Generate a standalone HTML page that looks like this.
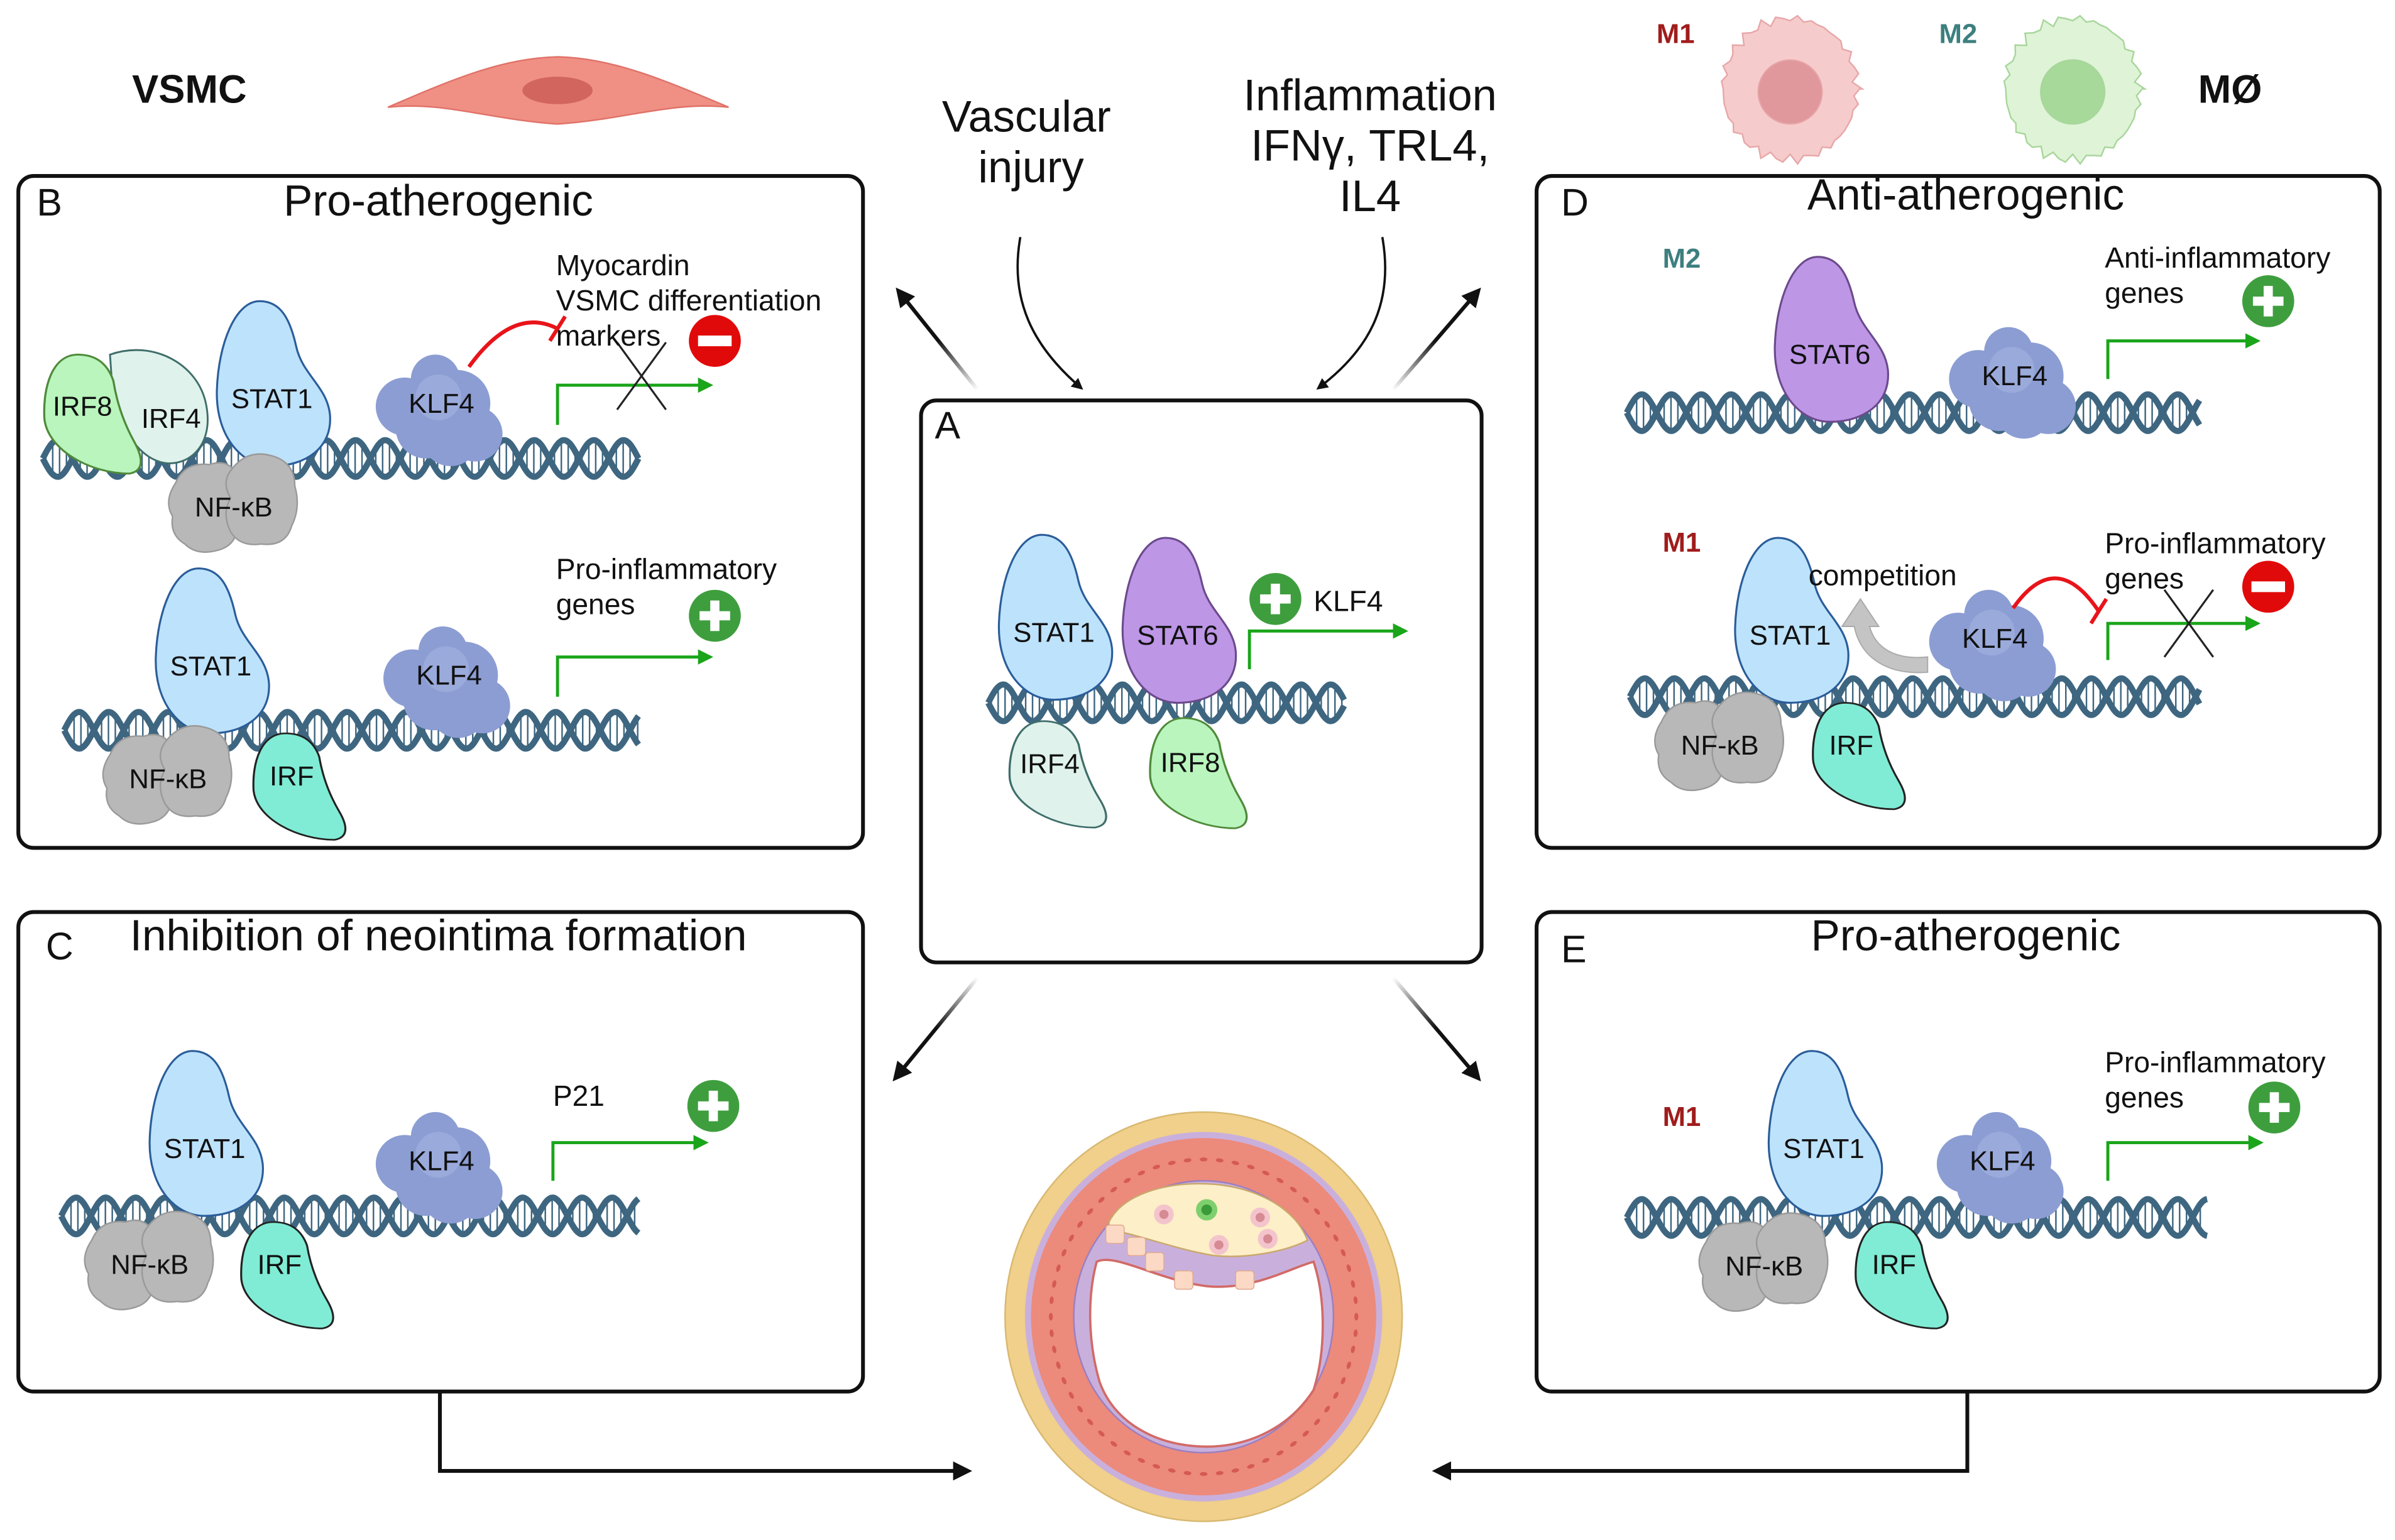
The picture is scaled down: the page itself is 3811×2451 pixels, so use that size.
<!DOCTYPE html>
<html><head><meta charset="utf-8">
<style>
html,body{margin:0;padding:0;background:#fff;}
svg{display:block;}
text{font-family:"Liberation Sans",sans-serif;fill:#111;}
</style></head>
<body>
<svg id="s" xmlns="http://www.w3.org/2000/svg" width="3811" height="2451" viewBox="0 0 1568 1008">
<defs>
<marker id="ah" viewBox="0 0 10 10" refX="8" refY="5" markerWidth="5" markerHeight="5" orient="auto-start-reverse"><path d="M0,0 L10,5 L0,10 z" fill="#111"/></marker>
<marker id="gh" viewBox="0 0 10 10" refX="8" refY="5" markerWidth="5" markerHeight="5" orient="auto"><path d="M0,0 L10,5 L0,10 z" fill="#1aa51a"/></marker>
<linearGradient id="fadeL1" x1="640" y1="255" x2="588" y2="190" gradientUnits="userSpaceOnUse"><stop offset="0" stop-color="#111" stop-opacity="0"/><stop offset="0.5" stop-color="#111"/></linearGradient>
<linearGradient id="fadeR1" x1="912" y1="255" x2="968" y2="190" gradientUnits="userSpaceOnUse"><stop offset="0" stop-color="#111" stop-opacity="0"/><stop offset="0.5" stop-color="#111"/></linearGradient>
<linearGradient id="fadeL2" x1="640" y1="640" x2="586" y2="706" gradientUnits="userSpaceOnUse"><stop offset="0" stop-color="#111" stop-opacity="0"/><stop offset="0.5" stop-color="#111"/></linearGradient>
<linearGradient id="fadeR2" x1="912" y1="640" x2="968" y2="706" gradientUnits="userSpaceOnUse"><stop offset="0" stop-color="#111" stop-opacity="0"/><stop offset="0.5" stop-color="#111"/></linearGradient>
</defs>
<g id="g"></g>
</svg>
<script>
var o='';
function dna(x1,x2,y){var A=12,P=39,s1='',s2='',r='';
 for(var x=x1;x<=x2;x+=1){var t=(x-x1)/P*2*Math.PI;var a=y+A*Math.sin(t),b=y-A*Math.sin(t);
  s1+=(x==x1?'M':'L')+x+','+a.toFixed(1);s2+=(x==x1?'M':'L')+x+','+b.toFixed(1);}
 for(var x=x1+2;x<x2;x+=4.5){var t=(x-x1)/P*2*Math.PI;var a=y+A*Math.sin(t),b=y-A*Math.sin(t);r+='M'+x.toFixed(1)+','+a.toFixed(1)+'L'+x.toFixed(1)+','+b.toFixed(1);}
 o+='<path d="'+r+'" stroke="#3e6680" stroke-width="1" fill="none"/>';
 o+='<path d="'+s1+'" stroke="#3e6680" stroke-width="4" fill="none"/><path d="'+s2+'" stroke="#3e6680" stroke-width="4" fill="none"/>';}
function stat(x,y,fill,st,lab,sx,sy){sx=sx||1;sy=sy||1;
 o+='<g transform="translate('+x+','+y+') scale('+sx+','+sy+')"><path d="M30,0 C14,0 3,28 2,58 C1,88 18,108 38,108 C60,108 78,96 76,74 C74,56 58,48 54,30 C50,12 44,0 30,0Z" fill="'+fill+'" stroke="'+st+'" stroke-width="1.3"/></g>';
 o+='<text x="'+(x+38*sx)+'" y="'+(y+70*sy)+'" font-size="18" text-anchor="middle">'+lab+'</text>';}
function irf(x,y,fill,st,lab,sx,sy){sx=sx||1;sy=sy||1;
 o+='<g transform="translate('+x+','+y+') scale('+sx+','+sy+')"><path d="M22,0 C6,0 0,22 1,44 C3,66 30,82 54,82 C64,80 62,70 57,60 C50,46 46,32 44,18 C40,5 32,0 22,0Z" fill="'+fill+'" stroke="'+st+'" stroke-width="1.3"/></g>';
 o+='<text x="'+(x+26*sx)+'" y="'+(y+40*sy)+'" font-size="18" text-anchor="middle">'+lab+'</text>';}
function klf(x,y){var c=[[0,-14,16],[-20,4,19],[14,2,22],[-6,18,20],[26,22,18],[10,24,19]];
 o+='<g fill="#8c9dd3">';c.forEach(function(q){o+='<circle cx="'+(x+q[0])+'" cy="'+(y+q[1])+'" r="'+q[2]+'"/>';});
 o+='</g><circle cx="'+(x+2)+'" cy="'+(y-2)+'" r="15" fill="#9aaadb"/>';
 o+='<text x="'+(x+4)+'" y="'+(y+8)+'" font-size="18" text-anchor="middle">KLF4</text>';}
function nfkb(x,y){o+='<g fill="#b8b8b8" stroke="#9a9a9a" stroke-width="1">'+
 '<path d="M'+(x-40)+','+(y-14)+' q6,-14 22,-12 q12,-4 18,6 q4,14 0,30 q2,16 -12,20 q-14,4 -22,-4 q-10,-6 -8,-18 q-6,-10 2,-22z"/>'+
 '<path d="M'+(x-4)+','+(y-22)+' q10,-14 26,-10 q16,4 16,20 q4,14 -2,26 q-4,14 -20,12 q-14,2 -20,-8 q-6,-12 0,-22 q-6,-10 0,-18z"/></g>';
 o+='<text x="'+(x-2)+'" y="'+(y+8)+'" font-size="18" text-anchor="middle">NF-κB</text>';}
function prom(x,y1,y2,x2){o+='<path d="M'+x+','+y1+' L'+x+','+y2+' L'+x2+','+y2+'" stroke="#1aa51a" stroke-width="2" fill="none" marker-end="url(#gh)"/>';}
function plus(x,y){o+='<circle cx="'+x+'" cy="'+y+'" r="17" fill="#3e9e3e"/><rect x="'+(x-10)+'" y="'+(y-3)+'" width="20" height="6" fill="#fff"/><rect x="'+(x-3)+'" y="'+(y-10)+'" width="6" height="20" fill="#fff"/>';}
function minus(x,y){o+='<circle cx="'+x+'" cy="'+y+'" r="17" fill="#e10a0a"/><rect x="'+(x-11)+'" y="'+(y-3.5)+'" width="22" height="7" fill="#fff"/>';}
function cross(x,y){o+='<path d="M'+(x-16)+','+(y-22)+'L'+(x+16)+','+(y+22)+'M'+(x+16)+','+(y-22)+'L'+(x-16)+','+(y+22)+'" stroke="#222" stroke-width="1.3"/>';}
function inhib(x1,y1,x2,y2){o+='<path d="M'+x1+','+y1+' Q'+((x1+x2)/2)+','+(y1-40)+' '+x2+','+y2+'" stroke="#e8141a" stroke-width="2.5" fill="none"/><path d="M'+(x2-5)+','+(y2+8)+' L'+(x2+5)+','+(y2-8)+'" stroke="#e8141a" stroke-width="2.5"/>';}
function txt(x,y,s,sz,anchor,extra){o+='<text x="'+x+'" y="'+y+'" font-size="'+sz+'" text-anchor="'+(anchor||'start')+'" '+(extra||'')+'>'+s+'</text>';}
function box(x,y,w,h){o+='<rect x="'+x+'" y="'+y+'" width="'+w+'" height="'+h+'" rx="10" fill="#fff" stroke="#111" stroke-width="2.5"/>';}
var T=28.5,S=19;
/* top */
txt(124,67,'VSMC',26,'middle','font-weight="bold"');
o+='<path d="M254,70 C300,50 330,38 365,37 C400,38 430,50 477,70 C440,66 410,78 365,81 C320,78 290,66 254,70Z" fill="#f09085" stroke="#e07268" stroke-width="1"/><ellipse cx="365" cy="59" rx="23" ry="9" fill="#d2665e"/>';
txt(672,86,'Vascular',29,'middle');txt(675,119,'injury',29,'middle');
txt(897,72,'Inflammation',29,'middle');txt(897,105,'IFNγ, TRL4,',29,'middle');txt(897,138,'IL4',29,'middle');
function mac(cx,cy,f1,f2,st){var d='';for(var i=0;i<=60;i++){var a=i/60*2*Math.PI;var r=44+2*Math.sin(i*3.7)+1.5*Math.cos(i*2.3);d+=(i?'L':'M')+(cx+r*Math.cos(a)).toFixed(1)+','+(cy+r*1.05*Math.sin(a)).toFixed(1);}
 o+='<path d="'+d+'Z" fill="'+f1+'" stroke="'+st+'" stroke-width="1"/><circle cx="'+cx+'" cy="'+(cy+2)+'" r="21" fill="'+f2+'" stroke="'+st+'" stroke-width="0.8"/>';}
mac(1172,58,'#f6cbcb','#e0989c','#e7a7a9');mac(1357,58,'#dff3d7','#a6d99a','#a8d69b');
txt(1097,28,'M1',18,'middle','font-weight="bold" style="fill:#a01c1c"');
txt(1282,28,'M2',18,'middle','font-weight="bold" style="fill:#3d7f7f"');
txt(1460,67,'MØ',26,'middle','font-weight="bold"');
o+='<path d="M668,155 C660,200 680,230 708,254" stroke="#111" stroke-width="1.5" fill="none" marker-end="url(#ah)"/>';
o+='<path d="M905,155 C913,200 895,230 863,254" stroke="#111" stroke-width="1.5" fill="none" marker-end="url(#ah)"/>';
o+='<path d="M640,255 L588,190" stroke="url(#fadeL1)" stroke-width="2.5" fill="none" marker-end="url(#ah)"/>';
o+='<path d="M912,255 L968,190" stroke="url(#fadeR1)" stroke-width="2.5" fill="none" marker-end="url(#ah)"/>';
o+='<path d="M640,640 L586,706" stroke="url(#fadeL2)" stroke-width="2.5" fill="none" marker-end="url(#ah)"/>';
o+='<path d="M912,640 L968,706" stroke="url(#fadeR2)" stroke-width="2.5" fill="none" marker-end="url(#ah)"/>';
o+='<path d="M288,912 L288,963 L634,963" stroke="#111" stroke-width="2.5" fill="none" marker-end="url(#ah)"/>';
o+='<path d="M1288,912 L1288,963 L940,963" stroke="#111" stroke-width="2.5" fill="none" marker-end="url(#ah)"/>';

box(12,115,553,440);box(12,597,553,314);box(1006,115,552,440);box(1006,597,552,314);box(603,262,367,368);

/* B */
txt(24,141,'B',25);txt(287,141,'Pro-atherogenic',T,'middle');
dna(28,418,300);
o+='<path d="M72,232 C100,222 130,238 135,265 C140,290 125,305 108,303 C90,300 80,280 74,260Z" fill="#e0f2ec" stroke="#3f6e6a" stroke-width="1.2"/>';
irf(28,232,'#b9f5bd','#4f8a3a','',1.05,0.95);
txt(54,272,'IRF8',18,'middle');txt(112,280,'IRF4',18,'middle');
stat(140,197,'#bde2fb','#2a5d9a','STAT1');
nfkb(155,330);
klf(285,262);
inhib(307,240,365,215);
prom(365,278,252,465);cross(420,246);minus(468,223);
txt(364,180,'Myocardin',S);txt(364,203,'VSMC differentiation',S);txt(364,226,'markers',S);
dna(42,418,478);
stat(100,372,'#bde2fb','#2a5d9a','STAT1');
nfkb(112,508);irf(165,480,'#80ecd5','#222','IRF',1,0.85);
klf(290,440);prom(365,456,430,465);plus(468,403);
txt(364,379,'Pro-inflammatory',S);txt(364,402,'genes',S);

/* C */
txt(30,628,'C',25);txt(287,622,'Inhibition of neointima formation',T,'middle');
dna(40,418,796);
stat(96,688,'#bde2fb','#2a5d9a','STAT1');
nfkb(100,826);irf(157,800,'#80ecd5','#222','IRF',1,0.85);
klf(285,758);prom(362,773,748,462);plus(467,724);txt(362,724,'P21',S);

/* A */
txt(612,287,'A',25);
dna(647,880,460);
stat(652,350,'#bde2fb','#2a5d9a','STAT1');
stat(733,352,'#bd96e6','#6b4a8c','STAT6');
irf(660,472,'#e0f2ec','#3f6e6a','IRF4',1.05,0.85);
irf(752,470,'#b9f5bd','#4f8a3a','IRF8',1.05,0.88);
plus(835,392);txt(860,400,'KLF4',S);prom(818,438,413,920);

/* D */
txt(1022,141,'D',25);txt(1287,137,'Anti-atherogenic',T,'middle');
txt(1101,175,'M2',18,'middle','font-weight="bold" style="fill:#3d7f7f"');
dna(1065,1440,270);
stat(1160,168,'#bd96e6','#6b4a8c','STAT6',1,1);
klf(1315,244);prom(1380,248,223,1478);plus(1485,197);
txt(1378,175,'Anti-inflammatory',S);txt(1378,198,'genes',S);
txt(1101,361,'M1',18,'middle','font-weight="bold" style="fill:#a01c1c"');
dna(1067,1440,456);
stat(1134,352,'#bde2fb','#2a5d9a','STAT1');
nfkb(1128,486);irf(1186,460,'#80ecd5','#222','IRF',1,0.85);
o+='<path d="M1262,440 C1235,442 1218,430 1214,410 L1206,410 L1218,392 L1230,410 L1224,410 C1228,425 1242,432 1262,430Z" fill="#c4c4c4" stroke="#aaa" stroke-width="0.8"/>';
klf(1302,416);
txt(1184,383,'competition',S);
inhib(1318,398,1374,400);
prom(1380,432,408,1478);cross(1433,408);minus(1485,384);
txt(1378,362,'Pro-inflammatory',S);txt(1378,385,'genes',S);

/* E */
txt(1022,630,'E',25);txt(1287,622,'Pro-atherogenic',T,'middle');
txt(1101,737,'M1',18,'middle','font-weight="bold" style="fill:#a01c1c"');
dna(1065,1445,797);
stat(1156,688,'#bde2fb','#2a5d9a','STAT1');
nfkb(1157,827);irf(1214,800,'#80ecd5','#222','IRF',1,0.85);
klf(1307,758);prom(1380,773,748,1480);plus(1489,725);
txt(1378,702,'Pro-inflammatory',S);txt(1378,725,'genes',S);

/* artery */
var cx=788,cy=862;
o+='<ellipse cx="'+cx+'" cy="'+cy+'" rx="130" ry="134" fill="#f0d08a" stroke="#d8b870" stroke-width="1"/>';
o+='<ellipse cx="'+cx+'" cy="'+cy+'" rx="117" ry="121" fill="#c9b0dc"/>';
o+='<ellipse cx="'+cx+'" cy="'+cy+'" rx="113" ry="117" fill="#ec8a7c"/>';
var d='';for(var i=0;i<60;i++){var a=i/60*2*Math.PI,r=100;d+='<ellipse cx="'+(cx+r*Math.cos(a)).toFixed(1)+'" cy="'+(cy+r*1.03*Math.sin(a)).toFixed(1)+'" rx="2.5" ry="1.3" fill="#d55a55" transform="rotate('+(a*180/Math.PI+90).toFixed(0)+' '+(cx+r*Math.cos(a)).toFixed(1)+' '+(cy+r*1.03*Math.sin(a)).toFixed(1)+')"/>';}o+=d;
o+='<ellipse cx="'+cx+'" cy="'+cy+'" rx="85" ry="89" fill="#c9b0dc" stroke="#9a7fc0" stroke-width="1"/>';
o+='<path d="M726,800 C735,782 762,774 790,775 C820,776 848,790 856,812 C840,820 815,824 795,822 C770,818 745,808 726,805Z" fill="#fdefc8" stroke="#c9a86a" stroke-width="1"/>';
o+='<path d="M718,826 C730,820 758,838 790,842 C820,845 845,830 860,826 C868,850 868,885 860,910 C842,938 812,948 787,947 C757,946 730,932 720,905 C712,878 712,848 718,826Z" fill="#fff" stroke="#d26a66" stroke-width="1.5"/>';
[[762,795],[825,797],[798,815],[830,811]].forEach(function(p){o+='<circle cx="'+p[0]+'" cy="'+p[1]+'" r="6.5" fill="#f4c4cc"/><circle cx="'+p[0]+'" cy="'+p[1]+'" r="3" fill="#d68a94"/>';});
o+='<circle cx="790" cy="792" r="7" fill="#7ed06e"/><circle cx="790" cy="792" r="3.5" fill="#3a9a3a"/>';
[[730,808],[744,816],[756,826],[775,838],[815,838]].forEach(function(p){o+='<rect x="'+(p[0]-6)+'" y="'+(p[1]-6)+'" width="12" height="12" rx="2" fill="#fbd9c4" stroke="#e0a890" stroke-width="0.6"/>';});
document.getElementById('g').innerHTML=o;
</script>
</body></html>
